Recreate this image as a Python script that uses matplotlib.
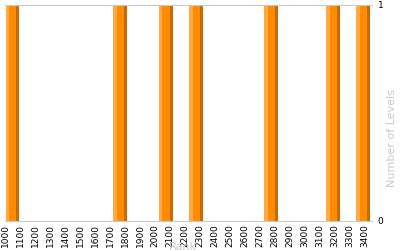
import numpy as np
import matplotlib.pyplot as plt

# rank bins (centre) and number of levels in each
ranks = [1050, 1765, 2070, 2270, 2775, 3185, 3385]
levels = [1, 1, 1, 1, 1, 1, 1]
xticks = list(range(1000, 3401, 100))

fig = plt.figure(figsize=(4, 2.5), dpi=100)
ax = fig.add_axes([0.0125, 0.116, 0.918, 0.864])

w = 93
# main bar, then light left strip and dark right strip
ax.bar(ranks, levels, width=w, color='#ff8c00', linewidth=0)
ax.bar(np.array(ranks) - w/2 + 13, levels, width=26, color='#ffa940', linewidth=0)
ax.bar(np.array(ranks) + w/2 - 10, levels, width=20, color='#c96a00', linewidth=0)

ax.set_xlim(1000, 3447)
ax.set_ylim(0, 1)
ax.set_xticks(xticks)
ax.set_xticklabels([str(t) for t in xticks], rotation=90, fontsize=6.5)
ax.set_yticks([0, 1])
ax.yaxis.tick_right()
ax.tick_params(length=0, labelsize=6.5, pad=2)
ax.tick_params(axis='y', pad=4)

for s in ['left', 'right']:
    ax.spines[s].set_visible(False)
ax.spines['top'].set_color('#c8c8c8')
ax.spines['bottom'].set_color('#c8c8c8')

ax.text(0.485, -0.12, "Rank", transform=ax.transAxes, color='#c8c8c8',
        fontsize=8, ha='center', va='center')
ax.text(1.054, 0.384, "Number of Levels", transform=ax.transAxes, color='#c8c8c8',
        fontsize=8, ha='center', va='center', rotation=90)

fig.savefig("out.png")
